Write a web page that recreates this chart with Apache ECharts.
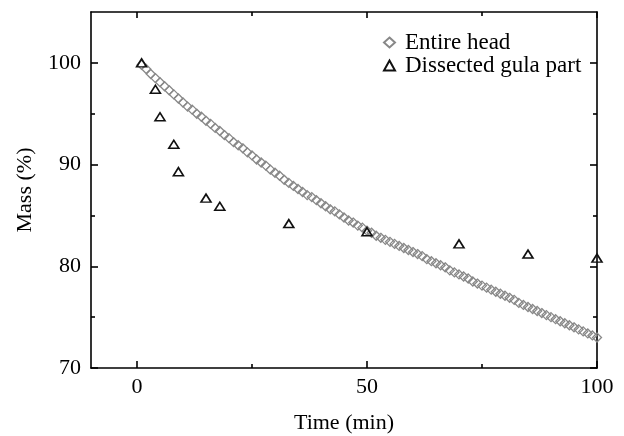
<!DOCTYPE html>
<html>
<head>
<meta charset="utf-8">
<script src="https://cdn.jsdelivr.net/npm/echarts@6/dist/echarts.min.js"></script>
<style>
html,body{margin:0;padding:0;background:#fff;}
#chart{width:624px;height:436px;}
</style>
</head>
<body>
<div id="chart"></div>
<script>
// Entire head (diamonds)
const entireTime = [1,2,3,4,5,6,7,8,9,10,11,12,13,14,15,16,17,18,19,20,21,22,23,24,25,26,27,28,29,30,31,32,33,34,35,36,37,38,39,40,41,42,43,44,45,46,47,48,49,50,51,52,53,54,55,56,57,58,59,60,61,62,63,64,65,66,67,68,69,70,71,72,73,74,75,76,77,78,79,80,81,82,83,84,85,86,87,88,89,90,91,92,93,94,95,96,97,98,99,100];
const entireMass = [99.8,99.4,98.9,98.5,98.1,97.7,97.3,96.9,96.5,96.1,95.7,95.4,95.0,94.7,94.3,94.0,93.6,93.3,92.9,92.6,92.2,91.9,91.6,91.2,90.9,90.5,90.2,89.9,89.5,89.2,88.9,88.5,88.2,87.9,87.6,87.3,87.0,86.8,86.5,86.2,85.9,85.6,85.4,85.1,84.8,84.5,84.3,84.0,83.8,83.5,83.3,83.0,82.8,82.6,82.4,82.2,82.0,81.8,81.6,81.4,81.2,81.0,80.7,80.5,80.3,80.1,79.9,79.6,79.4,79.2,79.0,78.8,78.5,78.3,78.1,77.9,77.7,77.5,77.3,77.1,76.9,76.7,76.4,76.2,76.0,75.8,75.6,75.4,75.2,75.0,74.8,74.6,74.4,74.2,74.0,73.8,73.6,73.4,73.2,73.0];
// Dissected gula part (triangles)
const gulaTime = [1,4,5,8,9,15,18,33,50,70,85,100];
const gulaMass = [100.0,97.4,94.7,92.0,89.3,86.7,85.9,84.2,83.4,82.2,81.2,80.8];
// Axis ticks / labels
const xLabels = [0,50,100];
const xMinor = [25,75];
const yLabels = [70,80,90,100];
const yMinor = [75,85,95];
const seriesNames = ['Entire head','Dissected gula part'];

const FONT = 'Liberation Serif';
const X_MIN = -10, X_MAX = 100, Y_MIN = 70, Y_MAX = 105;

function xAx(opts){
  return Object.assign({
    type:'value', min:X_MIN, max:X_MAX, splitLine:{show:false},
    axisLine:{show:false}, axisLabel:{show:false}, axisTick:{show:false}
  }, opts);
}
function yAx(opts){
  return Object.assign({
    type:'value', min:Y_MIN, max:Y_MAX, splitLine:{show:false},
    axisLine:{show:false}, axisLabel:{show:false}, axisTick:{show:false}
  }, opts);
}
const lineStyle = {color:'#000', width:1.6};

const chart = echarts.init(document.getElementById('chart'), null, {renderer:'canvas'});
chart.setOption({
  animation:false,
  backgroundColor:'#fff',
  grid:{left:91, right:27, top:12, bottom:68, containLabel:false, outerBoundsMode:'none'},
  legend:{
    orient:'vertical', left:378, top:26, itemGap:0,
    itemWidth:11, itemHeight:10,
    data:seriesNames,
    textStyle:{fontFamily:FONT, fontSize:23, lineHeight:20, color:'#000', padding:[0,0,0,5]}
  },
  xAxis:[
    xAx({position:'bottom', axisLine:{show:true, lineStyle:lineStyle, onZero:false},
      axisTick:{show:true, inside:true, length:7, lineStyle:lineStyle, customValues:xLabels},
      axisLabel:{show:true, customValues:xLabels, margin:8, fontFamily:FONT, fontSize:22, color:'#000'},
      name:'Time (min)', nameLocation:'middle', nameGap:44,
      nameTextStyle:{fontFamily:FONT, fontSize:22, color:'#000'}}),
    xAx({position:'bottom', axisTick:{show:true, inside:true, length:4, lineStyle:lineStyle, customValues:xMinor}, axisLine:{show:false, onZero:false}}),
    xAx({position:'top', axisLine:{show:true, lineStyle:lineStyle, onZero:false},
      axisTick:{show:true, inside:true, length:6, lineStyle:lineStyle, customValues:xLabels}}),
    xAx({position:'top', axisTick:{show:true, inside:true, length:4, lineStyle:lineStyle, customValues:xMinor}, axisLine:{show:false, onZero:false}})
  ],
  yAxis:[
    yAx({position:'left', axisLine:{show:true, lineStyle:lineStyle, onZero:false},
      axisTick:{show:true, inside:true, length:7, lineStyle:lineStyle, customValues:yLabels},
      axisLabel:{show:true, customValues:yLabels, margin:10, fontFamily:FONT, fontSize:22, color:'#000'},
      name:'Mass (%)', nameLocation:'middle', nameGap:55,
      nameTextStyle:{fontFamily:FONT, fontSize:22, color:'#000'}}),
    yAx({position:'left', axisTick:{show:true, inside:true, length:4, lineStyle:lineStyle, customValues:yMinor}, axisLine:{show:false, onZero:false}}),
    yAx({position:'right', axisLine:{show:true, lineStyle:lineStyle, onZero:false},
      axisTick:{show:true, inside:true, length:7, lineStyle:lineStyle, customValues:yLabels}}),
    yAx({position:'right', axisTick:{show:true, inside:true, length:4, lineStyle:lineStyle, customValues:yMinor}, axisLine:{show:false, onZero:false}})
  ],
  series:[
    {
      name:seriesNames[0], type:'scatter', xAxisIndex:0, yAxisIndex:0,
      symbol:'diamond', symbolSize:[9,9], clip:false,
      itemStyle:{color:'rgba(255,255,255,0)', borderColor:'#888', borderWidth:1.3, opacity:1},
      data: entireTime.map((t,i)=>[t, entireMass[i]]),
      z:2
    },
    {
      name:seriesNames[1], type:'scatter', xAxisIndex:0, yAxisIndex:0,
      symbol:'triangle', symbolSize:[10,8], clip:false,
      itemStyle:{color:'rgba(255,255,255,0)', borderColor:'#111', borderWidth:1.6, opacity:1},
      data: gulaTime.map((t,i)=>[t, gulaMass[i]]),
      z:3
    }
  ]
});
</script>
</body>
</html>
